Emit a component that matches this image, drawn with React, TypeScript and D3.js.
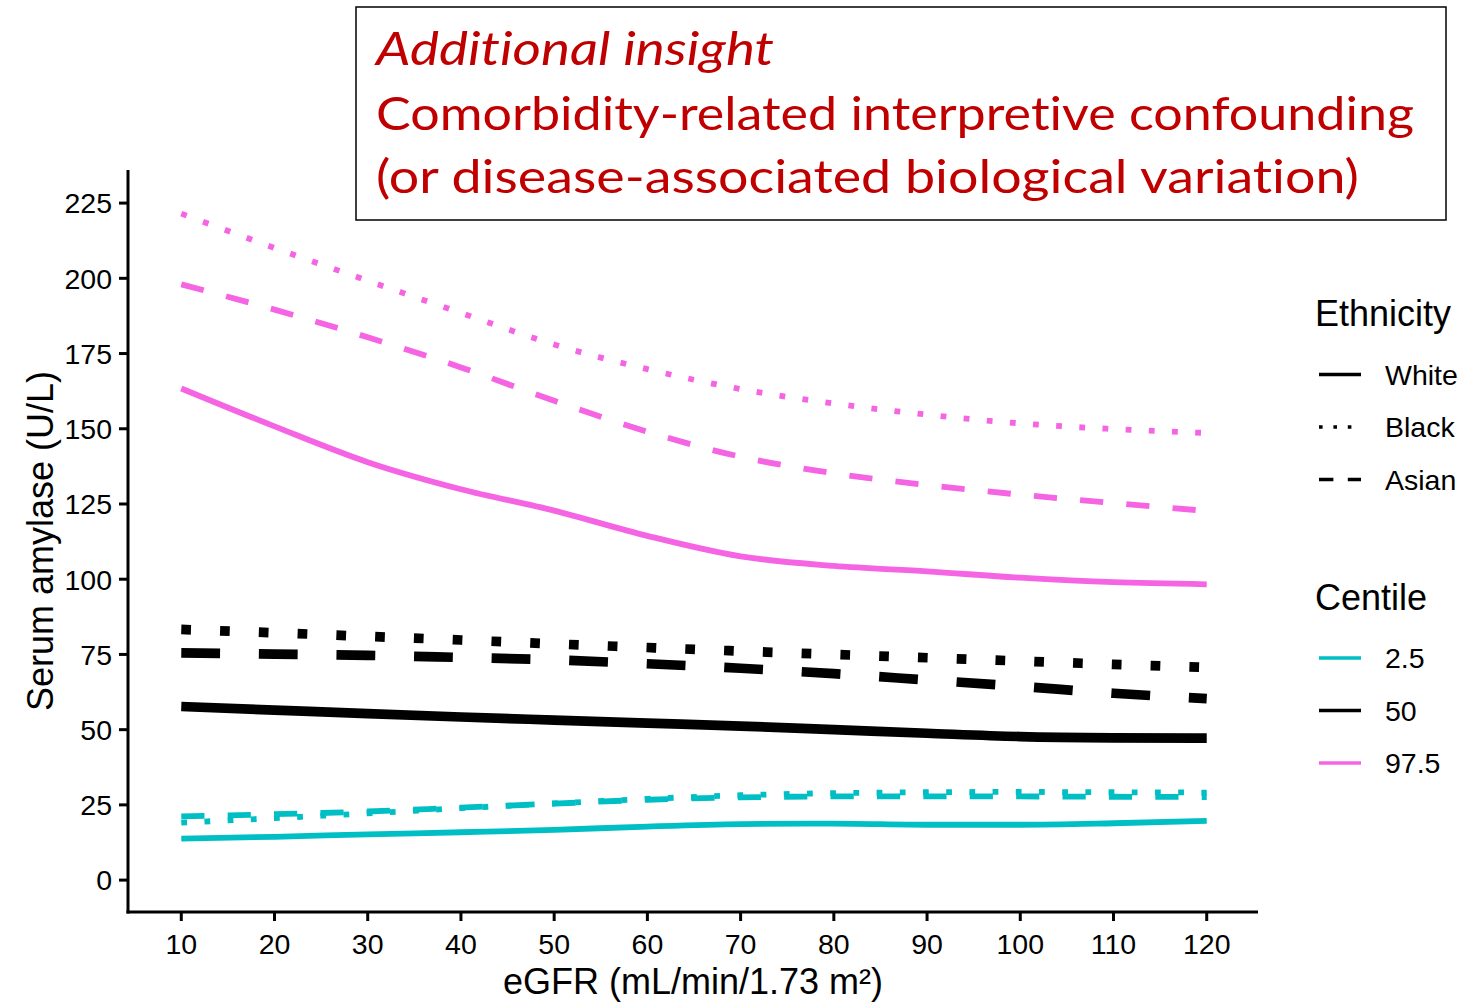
import React from "react";
import * as d3 from "d3";

// eGFR grid (mL/min/1.73 m²)
const egfr = [10, 20, 30, 40, 50, 60, 70, 80, 90, 100, 110, 120];

// Serum amylase centiles (U/L) by ethnicity
const white025 = [13.8, 14.4, 15.2, 15.9, 16.7, 17.8, 18.6, 18.8, 18.4, 18.4, 18.9, 19.7];
const white50 = [57.7, 56.5, 55.3, 54.2, 53.2, 52.2, 51.2, 50.0, 48.8, 47.7, 47.3, 47.2];
const white975 = [163.4, 150.8, 138.9, 129.9, 122.8, 114.4, 107.6, 104.4, 102.6, 100.5, 99.0, 98.3];

const black025 = [19.1, 20.6, 22.2, 23.9, 25.5, 27.0, 28.2, 28.9, 29.2, 29.3, 29.2, 29.1];
const black50 = [83.3, 82.2, 81.0, 79.8, 78.5, 77.3, 76.1, 75.0, 73.9, 72.8, 71.7, 70.7];
const black975 = [221.5, 210.1, 199.2, 188.5, 178.0, 169.8, 163.2, 158.4, 154.7, 151.8, 149.9, 148.6];

const asian025 = [21.2, 21.9, 22.8, 24.1, 25.4, 26.7, 27.5, 27.8, 27.8, 27.8, 27.7, 27.6];
const asian50 = [75.5, 75.1, 74.7, 74.0, 73.2, 71.9, 70.4, 68.6, 66.5, 64.4, 62.1, 60.3];
const asian975 = [198.0, 189.6, 180.4, 170.4, 159.3, 149.0, 140.7, 135.2, 131.3, 128.1, 125.3, 122.7];

const xTicks = [10, 20, 30, 40, 50, 60, 70, 80, 90, 100, 110, 120];
const yTicks = [0, 25, 50, 75, 100, 125, 150, 175, 200, 225];

const ethnicities = ["White", "Black", "Asian"];
const centiles = ["2.5", "50", "97.5"];

const titleLines = [
  "Additional insight",
  "Comorbidity-related interpretive confounding",
  "(or disease-associated biological variation)",
];

const centileColor: Record<string, string> = {
  "2.5": "#00BFC4",
  "50": "#000000",
  "97.5": "#F564E3",
};
const centileWidth: Record<string, number> = { "2.5": 5.8, "50": 9.7, "97.5": 5.8 };

const dashFor = (eth: string, w: number) =>
  eth === "Black" ? `${w},${3 * w}` : eth === "Asian" ? `${4 * w},${4 * w}` : undefined;

const seriesValues: Record<string, Record<string, number[]>> = {
  White: { "2.5": white025, "50": white50, "97.5": white975 },
  Black: { "2.5": black025, "50": black50, "97.5": black975 },
  Asian: { "2.5": asian025, "50": asian50, "97.5": asian975 },
};

const W = 1468;
const H = 1003;
const axisFont = "'Liberation Sans', Arial, sans-serif";

export default function App() {
  const x = d3.scaleLinear().domain([4.5, 125.5]).range([130, 1258]);
  const y = d3.scaleLinear().domain([-10.6, 236]).range([912, 170]);

  const line = d3
    .line<[number, number]>()
    .x((d) => x(d[0]))
    .y((d) => y(d[1]))
    .curve(d3.curveMonotoneX);

  const series: { eth: string; cen: string; pts: [number, number][] }[] = [];
  for (const eth of ethnicities) {
    for (const cen of centiles) {
      series.push({
        eth,
        cen,
        pts: egfr.map((e, i) => [e, seriesValues[eth][cen][i]] as [number, number]),
      });
    }
  }

  const panelLeft = 128;
  const panelRight = 1258;
  const panelTop = 170;
  const panelBottom = 912;

  const noLig: React.CSSProperties = {
    fontVariantLigatures: "none",
    fontFeatureSettings: "'liga' 0, 'clig' 0",
  };

  return (
    <svg
      width={W}
      height={H}
      viewBox={`0 0 ${W} ${H}`}
      style={{ position: "absolute", left: 0, top: 0, background: "#fff" }}
    >
      <rect x={0} y={0} width={W} height={H} fill="#fff" />

      {/* centile curves */}
      <g fill="none">
        {series.map((s) => {
          const w = centileWidth[s.cen];
          return (
            <path
              key={s.eth + s.cen}
              d={line(s.pts) || ""}
              stroke={centileColor[s.cen]}
              strokeWidth={w}
              strokeDasharray={dashFor(s.eth, w)}
              strokeLinecap="butt"
            />
          );
        })}
      </g>

      {/* axes */}
      <g stroke="#000" strokeWidth={3}>
        <line x1={panelLeft} x2={panelLeft} y1={panelTop} y2={panelBottom + 1.5} />
        <line x1={panelLeft - 1.5} x2={panelRight} y1={panelBottom} y2={panelBottom} />
        {yTicks.map((t) => (
          <line key={"yt" + t} x1={panelLeft - 9} x2={panelLeft} y1={y(t)} y2={y(t)} />
        ))}
        {xTicks.map((t) => (
          <line key={"xt" + t} x1={x(t)} x2={x(t)} y1={panelBottom} y2={panelBottom + 9} />
        ))}
      </g>
      <g fontFamily={axisFont} fontSize={28.5} fill="#000">
        {yTicks.map((t) => (
          <text key={"yl" + t} x={112} y={y(t) + 10.3} textAnchor="end">
            {t}
          </text>
        ))}
        {xTicks.map((t) => (
          <text key={"xl" + t} x={x(t)} y={954} textAnchor="middle">
            {t}
          </text>
        ))}
      </g>
      <text
        x={(panelLeft + panelRight) / 2}
        y={994}
        textAnchor="middle"
        fontFamily={axisFont}
        fontSize={36}
        fill="#000"
      >
        eGFR (mL/min/1.73 m²)
      </text>
      <text
        transform={`translate(53,${(panelTop + panelBottom) / 2}) rotate(-90)`}
        textAnchor="middle"
        fontFamily={axisFont}
        fontSize={36}
        fill="#000"
      >
        Serum amylase (U/L)
      </text>

      {/* legends */}
      <g fontFamily={axisFont} fill="#000">
        <text x={1315} y={326} fontSize={36}>
          Ethnicity
        </text>
        {ethnicities.map((eth, i) => {
          const ky = 374.5 + i * 52.5;
          return (
            <g key={"le" + eth}>
              <line
                x1={1319}
                x2={1361}
                y1={ky}
                y2={ky}
                stroke="#000"
                strokeWidth={3.6}
                strokeDasharray={dashFor(eth, 3.6)}
              />
              <text x={1385} y={ky + 10.3} fontSize={28.5}>
                {eth}
              </text>
            </g>
          );
        })}
        <text x={1315} y={610} fontSize={36}>
          Centile
        </text>
        {centiles.map((c, i) => {
          const ky = 658 + i * 52.5;
          return (
            <g key={"lc" + c}>
              <line x1={1319} x2={1361} y1={ky} y2={ky} stroke={centileColor[c]} strokeWidth={3.6} />
              <text x={1385} y={ky + 10.3} fontSize={28.5}>
                {c}
              </text>
            </g>
          );
        })}
      </g>

      {/* annotation box */}
      <rect x={356} y={7} width={1090} height={213} fill="#fff" stroke="#000" strokeWidth={1.5} />
      <g fontFamily="Lato, 'Open Sans', sans-serif" fontSize={47} fill="#C00000" style={noLig}>
        <text x={376} y={65} fontStyle="italic" textLength={398} lengthAdjust="spacingAndGlyphs" style={noLig}>
          {titleLines[0]}
        </text>
        <text x={376} y={130} textLength={1038} lengthAdjust="spacingAndGlyphs" style={noLig}>
          {titleLines[1]}
        </text>
        <text x={376} y={193} textLength={983} lengthAdjust="spacingAndGlyphs" style={noLig}>
          {titleLines[2]}
        </text>
      </g>
    </svg>
  );
}
